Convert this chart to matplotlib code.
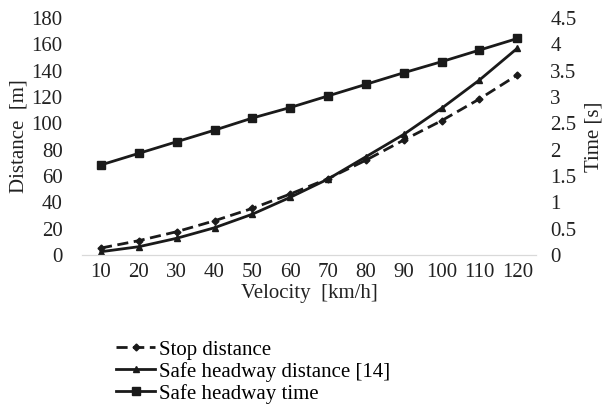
import matplotlib.pyplot as plt
import numpy as np

plt.rcParams['font.family'] = ['Liberation Serif', 'DejaVu Serif']

velocity = ['10', '20', '30', '40', '50', '60', '70', '80', '90', '100', '110', '120']
stop_distance = [5.3, 10.9, 17.7, 26.0, 35.4, 46.3, 58.0, 72.0, 87.3, 102.0, 118.5, 136.7]
safe_distance = [2.5, 6.3, 12.7, 20.7, 31.0, 43.8, 57.7, 74.6, 91.6, 111.4, 132.9, 157.0]
safe_time = [1.71, 1.93, 2.15, 2.37, 2.60, 2.80, 3.02, 3.24, 3.46, 3.67, 3.89, 4.11]

fig = plt.figure(figsize=(6.08, 4.08), dpi=100)
ax = fig.add_axes([0.135, 0.375, 0.747, 0.581])
ax2 = ax.twinx()

x = np.arange(len(velocity))
l1, = ax.plot(x, stop_distance, color='#1a1a1a', ls='--', lw=2, marker='D', ms=3.5, dashes=(4, 2))
l2, = ax.plot(x, safe_distance, color='#1a1a1a', ls='-', lw=2, marker='^', ms=5)
l3, = ax2.plot(x, safe_time, color='#1a1a1a', ls='-', lw=2, marker='s', ms=6)

ax.set_xlim(-0.5, len(velocity) - 0.5)
ax.set_ylim(0, 180)
ax.set_yticks(np.arange(0, 181, 20))
ax2.set_ylim(0, 4.5)
ax2.set_yticks(np.arange(0, 4.51, 0.5))
ax2.set_yticklabels(['0', '0.5', '1', '1.5', '2', '2.5', '3', '3.5', '4', '4.5'])
ax.set_xticks(x)
ax.set_xticklabels(velocity)

fs = 15
for a in (ax, ax2):
    for s in ('top', 'left', 'right'):
        a.spines[s].set_visible(False)
    a.spines['bottom'].set_color('#d9d9d9')
    a.tick_params(length=0, labelsize=fs, colors='#222222')
ax.tick_params(axis='x', pad=6)
ax.tick_params(axis='y', pad=14)
ax2.tick_params(axis='y', pad=10)

ax.set_xlabel('Velocity  [km/h]', fontsize=fs, color='#222222', labelpad=1)
ax.set_ylabel('Distance  [m]', fontsize=fs, color='#222222', labelpad=2)
ax2.set_ylabel('Time [s]', fontsize=fs, color='#222222', labelpad=6)

fig.legend([l1, l2, l3], ['Stop distance', 'Safe headway distance [14]', 'Safe headway time'],
           loc='lower left', bbox_to_anchor=(0.17, -0.02), frameon=False, fontsize=fs,
           handlelength=1.9, handletextpad=0.15, labelspacing=0.1, borderaxespad=0.2)

fig.savefig('out.png', dpi=100)
